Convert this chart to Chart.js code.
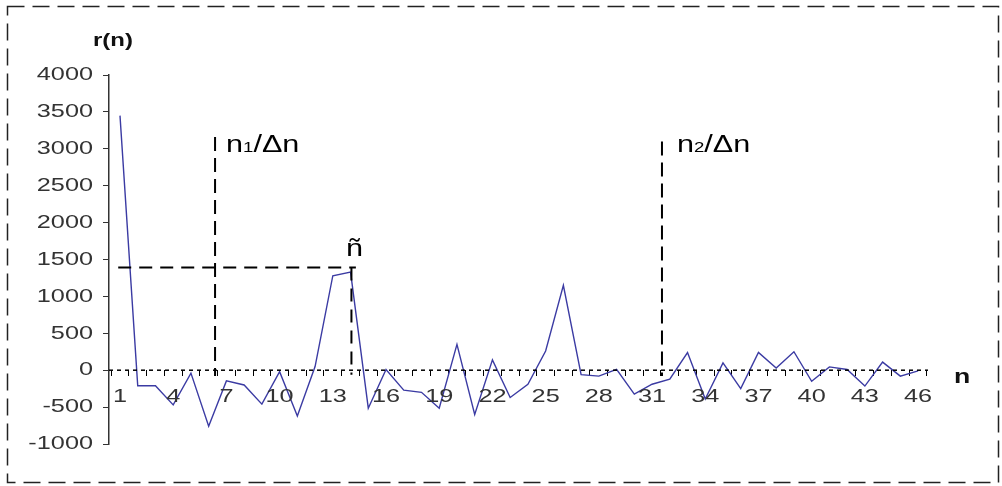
<!DOCTYPE html>
<html>
<head>
<meta charset="utf-8">
<script src="https://cdn.jsdelivr.net/npm/chart.js@4/dist/chart.umd.min.js"></script>
<style>
  html, body { margin: 0; padding: 0; background: #fff; }
  #wrap { width: 1002px; height: 486px; position: relative; }
</style>
</head>
<body>
<div id="wrap"><canvas id="c" width="1002" height="486"></canvas></div>
<script>
// Sample index n
const nLabels = ['1','2','3','4','5','6','7','8','9','10','11','12','13','14','15','16','17','18','19','20','21','22','23',
  '24','25','26','27','28','29','30','31','32','33','34','35','36','37','38','39','40','41','42','43','44','45','46'];

// Autocorrelation r(n)
const rValues = [3450, -210, -210, -470, -40, -760, -145, -200, -460, -20, -620, 50, 1280, 1330, -515, 10,
  -270, -300, -515, 350, -600, 140, -370, -190, 260, 1150, -60, -80, 10, -325, -190, -120, 240, -390,
  100, -250, 240, 30, 250, -150, 45, 10, -215, 110, -80, -10];

// Axis ranges
const yMin = -1000, yMax = 4000, yStep = 500;
const xMin = 0.38, xMax = 46.56;

// Marker positions (in n units and r units)
const n1Mark = 6.36, n1Top = 3160;
const n2Mark = 31.56, n2Top = 3100;
const nTildeMark = 14.05, tildeLevel = 1390;

const FONT = "'Liberation Sans', Arial, sans-serif";
const WIDEN = 1.33;   // horizontal stretch of all lettering

// text drawn with a horizontal stretch, anchored at (x, y)
function wideText(ctx, text, x, y, font, align, baseline, color) {
  ctx.save();
  ctx.font = font;
  ctx.fillStyle = color || '#000';
  ctx.textAlign = align;
  ctx.textBaseline = baseline;
  ctx.translate(x, y);
  ctx.scale(WIDEN, 1);
  ctx.fillText(text, 0, 0);
  const w = ctx.measureText(text).width * WIDEN;
  ctx.restore();
  return w;
}

const overlay = {
  id: 'overlay',
  beforeDraw(chart) {
    const ctx = chart.ctx;
    ctx.save();
    ctx.fillStyle = '#fff';
    ctx.fillRect(0, 0, chart.width, chart.height);
    ctx.restore();
  },
  afterDatasetsDraw(chart) {
    const ctx = chart.ctx;
    const xs = chart.scales.x, ys = chart.scales.y;
    const area = chart.chartArea;
    ctx.save();

    // dashed zero line serving as the n axis
    const y0 = ys.getPixelForValue(0);
    ctx.strokeStyle = '#000';
    ctx.lineWidth = 1.5;
    ctx.setLineDash([4, 4]);
    ctx.beginPath();
    ctx.moveTo(area.left, y0);
    ctx.lineTo(area.right, y0);
    ctx.stroke();

    // tick labels of both axes
    const tickFont = '19px ' + FONT;
    ys.ticks.forEach((t, i) => {
      wideText(ctx, String(t.value), area.left - 16, ys.getPixelForTick(i), tickFont, 'right', 'middle', '#333');
    });
    nLabels.forEach((lab, i) => {
      if (i % 3 === 0) {
        wideText(ctx, lab, xs.getPixelForValue(Number(lab)), y0 + 27, tickFont, 'center', 'middle', '#333');
      }
    });

    // marker lines
    ctx.strokeStyle = '#000';
    ctx.lineWidth = 2;
    ctx.setLineDash([14, 7]);
    const vline = (n, top, bottom) => {
      const x = xs.getPixelForValue(n);
      ctx.beginPath();
      ctx.moveTo(x, ys.getPixelForValue(top));
      ctx.lineTo(x, ys.getPixelForValue(bottom));
      ctx.stroke();
      return x;
    };
    const x1 = vline(n1Mark, n1Top, -80);
    const x2 = vline(n2Mark, n2Top, -80);
    ctx.setLineDash([13, 8]);
    const xt = vline(nTildeMark, tildeLevel, -60);
    ctx.beginPath();
    ctx.moveTo(xs.getPixelForValue(0.9), ys.getPixelForValue(tildeLevel));
    ctx.lineTo(xs.getPixelForValue(14.3), ys.getPixelForValue(tildeLevel));
    ctx.stroke();
    ctx.setLineDash([]);

    // marker labels: n<sub>k</sub>/Δn
    const big = '23px ' + FONT, small = '14px ' + FONT;
    const subLabel = (x, y, sub) => {
      let w = wideText(ctx, 'n', x, y, big, 'left', 'alphabetic');
      w += wideText(ctx, sub, x + w, y, small, 'left', 'alphabetic');
      wideText(ctx, '/Δn', x + w, y, big, 'left', 'alphabetic');
    };
    subLabel(x1 + 11, 152, '1');
    subLabel(x2 + 15, 152, '2');
    wideText(ctx, 'ñ', xt + 3, 256, big, 'center', 'alphabetic');

    // axis titles
    wideText(ctx, 'r(n)', 113, 41, 'bold 18px ' + FONT, 'center', 'middle', '#111');
    wideText(ctx, 'n', 962, 377, 'bold 20px ' + FONT, 'center', 'middle', '#111');

    // dashed frame
    ctx.strokeStyle = '#222';
    ctx.lineWidth = 1.5;
    ctx.setLineDash([17, 8]);
    ctx.strokeRect(7.5, 6.5, 991, 476);
    ctx.restore();
  }
};

new Chart(document.getElementById('c'), {
  type: 'line',
  data: {
    datasets: [{
      data: rValues.map((r, i) => ({ x: Number(nLabels[i]), y: r })),
      borderColor: '#3b3ba3',
      borderWidth: 1.4,
      pointRadius: 0,
      tension: 0,
      fill: false
    }]
  },
  options: {
    responsive: false,
    devicePixelRatio: 1,
    animation: false,
    events: [],
    layout: { padding: { left: 0, right: 74, top: 75, bottom: 42 } },
    plugins: { legend: { display: false }, tooltip: { enabled: false } },
    scales: {
      x: {
        type: 'linear',
        min: xMin,
        max: xMax,
        position: { y: 0 },
        // tick marks sit on the boundaries between neighbouring samples
        afterBuildTicks: s => {
          const b = nLabels.map(l => ({ value: Number(l) - 0.5 }));
          b.push({ value: Number(nLabels[nLabels.length - 1]) + 0.5 });
          s.ticks = b;
        },
        grid: { drawOnChartArea: false, drawTicks: true, tickLength: 6, color: '#000', lineWidth: 1 },
        border: { display: false },
        ticks: { display: false, autoSkip: false, maxRotation: 0 }
      },
      y: {
        min: yMin,
        max: yMax,
        afterFit: s => { s.width = 109; },
        grid: { drawOnChartArea: false, drawTicks: true, tickLength: 6, color: '#333', lineWidth: 1 },
        border: { display: true, color: '#333', width: 1.5 },
        ticks: { display: false, stepSize: yStep }
      }
    }
  },
  plugins: [overlay]
});
</script>
</body>
</html>
